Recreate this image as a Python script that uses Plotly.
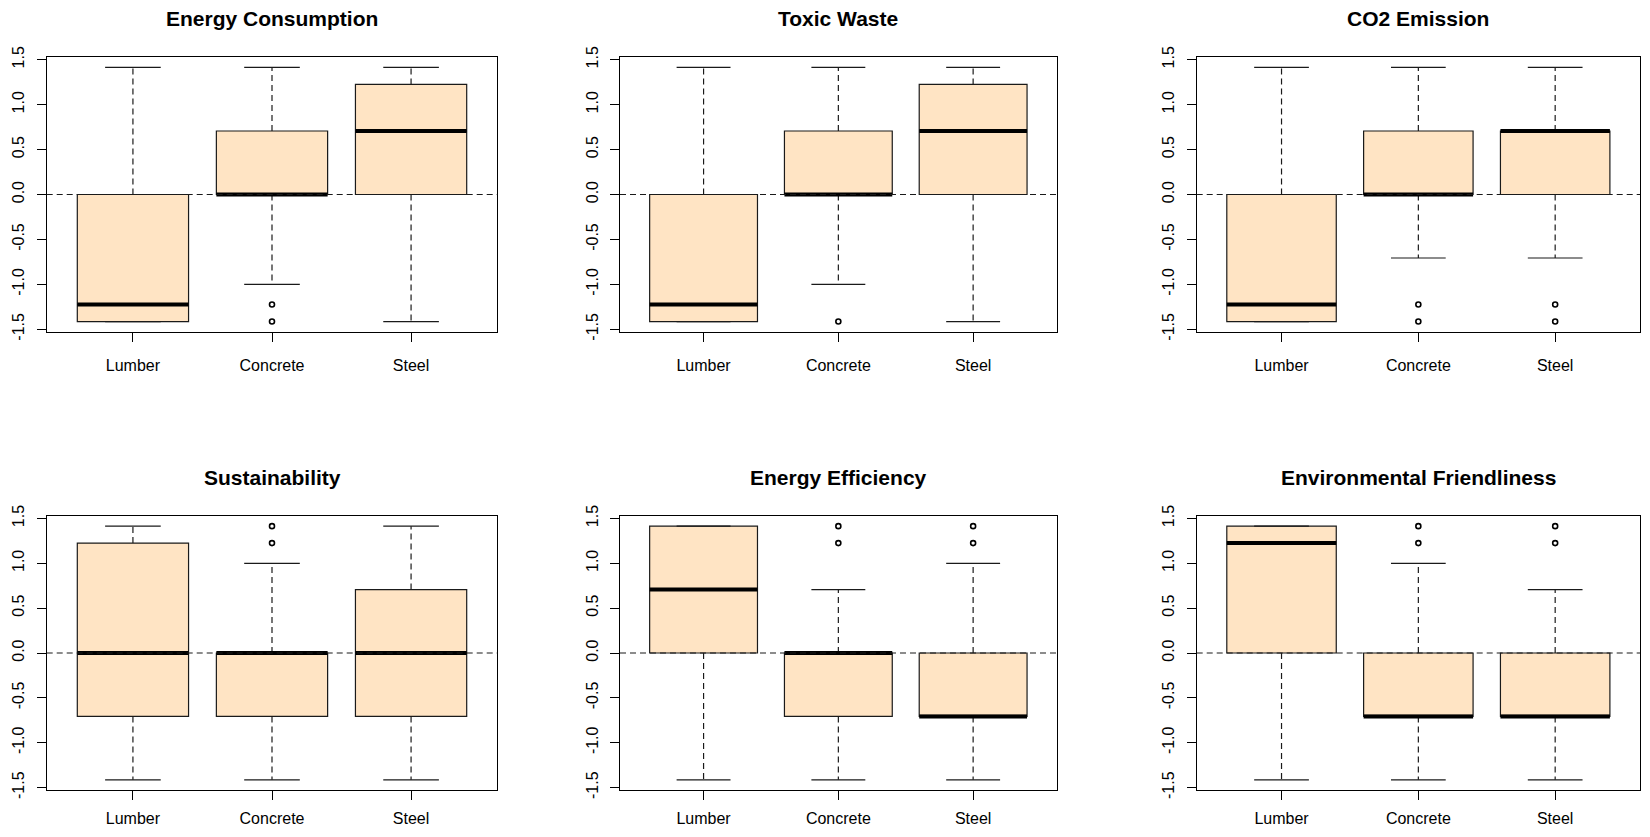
import plotly.graph_objects as go

# The browser page adds an 8px body margin, so the figure is sized to fit
# inside the window and the layout geometry is shifted by that margin.
PAGE_OFFSET = 8
W, H = 1634, 821

titles = ["Energy Consumption", "Toxic Waste", "CO2 Emission",
          "Sustainability", "Energy Efficiency", "Environmental Friendliness"]
categories = ["Lumber", "Concrete", "Steel"]
positions = [1, 2, 3]

lower_whisker = [
    [-1.414, -1.0, -1.414],
    [-1.414, -1.0, -1.414],
    [-1.414, -0.707, -0.707],
    [-1.414, -1.414, -1.414],
    [-1.414, -1.414, -1.414],
    [-1.414, -1.414, -1.414],
]
q1 = [
    [-1.414, 0.0, 0.0],
    [-1.414, 0.0, 0.0],
    [-1.414, 0.0, 0.0],
    [-0.707, -0.707, -0.707],
    [0.0, -0.707, -0.707],
    [0.0, -0.707, -0.707],
]
median = [
    [-1.225, 0.0, 0.707],
    [-1.225, 0.0, 0.707],
    [-1.225, 0.0, 0.707],
    [0.0, 0.0, 0.0],
    [0.707, 0.0, -0.707],
    [1.225, -0.707, -0.707],
]
q3 = [
    [0.0, 0.707, 1.225],
    [0.0, 0.707, 1.225],
    [0.0, 0.707, 0.707],
    [1.225, 0.0, 0.707],
    [1.414, 0.0, 0.0],
    [1.414, 0.0, 0.0],
]
upper_whisker = [
    [1.414, 1.414, 1.414],
    [1.414, 1.414, 1.414],
    [1.414, 1.414, 1.414],
    [1.414, 1.0, 1.414],
    [1.414, 0.707, 1.0],
    [1.414, 1.0, 0.707],
]
outliers = [
    [[], [-1.225, -1.414], []],
    [[], [-1.414], []],
    [[], [-1.225, -1.414], [-1.225, -1.414]],
    [[], [1.225, 1.414], []],
    [[], [1.225, 1.414], [1.225, 1.414]],
    [[], [1.225, 1.414], [1.225, 1.414]],
]

y_ticks = [-1.5, -1.0, -0.5, 0.0, 0.5, 1.0, 1.5]
y_ticktext = ["-1.5", "-1.0", "-0.5", "0.0", "0.5", "1.0", "1.5"]

BOX_FILL = "#FFE4C4"
BOX_WIDTH = 0.8
CAP_HALF = 0.2
FONT = "Liberation Sans, Arial, sans-serif"
LINE = "#1a1a1a"

# panel pixel geometry in window coordinates
col_px = [(46.7, 497.3), (620.0, 1056.7), (1196.7, 1640.0)]
row_px = [(57.3, 331.7), (516.0, 790.0)]
title_y_px = [18.5, 477.5]
x_label_standoff = [10, 5]


def fx(p):
    return (p - PAGE_OFFSET) / W


def fy(p):
    return 1 - (p - PAGE_OFFSET) / H


fig = go.Figure()
annotations = []
shapes = []

for i, title in enumerate(titles):
    r, c = divmod(i, 3)
    n = i + 1
    xa = "x" if n == 1 else f"x{n}"
    ya = "y" if n == 1 else f"y{n}"

    # boxes (whiskers drawn separately so they can be dashed)
    fig.add_trace(go.Box(
        x=positions, q1=q1[i], median=median[i], q3=q3[i],
        lowerfence=q1[i], upperfence=q3[i],
        width=BOX_WIDTH, fillcolor=BOX_FILL,
        line=dict(color=LINE, width=1.2),
        boxpoints=False, whiskerwidth=0,
        xaxis=xa, yaxis=ya, showlegend=False, hoverinfo="skip",
    ))

    # dashed whiskers
    wx, wy = [], []
    for k, p in enumerate(positions):
        wx += [p, p, None, p, p, None]
        wy += [q3[i][k], upper_whisker[i][k], None, q1[i][k], lower_whisker[i][k], None]
    fig.add_trace(go.Scatter(
        x=wx, y=wy, mode="lines",
        line=dict(color=LINE, width=1.2, dash="6px,4px"),
        xaxis=xa, yaxis=ya, showlegend=False, hoverinfo="skip",
    ))

    # whisker caps
    cx, cy = [], []
    for k, p in enumerate(positions):
        cx += [p - CAP_HALF, p + CAP_HALF, None, p - CAP_HALF, p + CAP_HALF, None]
        cy += [upper_whisker[i][k]] * 2 + [None] + [lower_whisker[i][k]] * 2 + [None]
    fig.add_trace(go.Scatter(
        x=cx, y=cy, mode="lines",
        line=dict(color=LINE, width=1.2),
        xaxis=xa, yaxis=ya, showlegend=False, hoverinfo="skip",
    ))

    # thick medians
    mx, my = [], []
    for k, p in enumerate(positions):
        mx += [p - BOX_WIDTH / 2, p + BOX_WIDTH / 2, None]
        my += [median[i][k], median[i][k], None]
    fig.add_trace(go.Scatter(
        x=mx, y=my, mode="lines",
        line=dict(color="black", width=4),
        xaxis=xa, yaxis=ya, showlegend=False, hoverinfo="skip",
    ))

    # outliers
    ox, oy = [], []
    for k, p in enumerate(positions):
        for v in outliers[i][k]:
            ox.append(p)
            oy.append(v)
    if ox:
        fig.add_trace(go.Scatter(
            x=ox, y=oy, mode="markers",
            marker=dict(symbol="circle-open", size=5, color="black",
                        line=dict(color="black", width=1.6)),
            xaxis=xa, yaxis=ya, showlegend=False, hoverinfo="skip",
        ))

    x0, x1 = col_px[c]
    top, bot = row_px[r]
    xdom = [fx(x0), fx(x1)]
    ydom = [fy(bot), fy(top)]

    axis_common = dict(
        showgrid=False, zeroline=False, showline=True, mirror=True,
        linecolor="black", linewidth=1, ticks="outside", ticklen=9,
        tickwidth=1, tickcolor="black", automargin=False,
    )
    fig.layout[("xaxis" if n == 1 else f"xaxis{n}")] = dict(
        domain=xdom, range=[0.38, 3.62], anchor=ya,
        tickmode="array", tickvals=positions, ticktext=categories,
        tickfont=dict(family=FONT, size=16, color="black"),
        ticklabelstandoff=x_label_standoff[r], **axis_common,
    )
    fig.layout[("yaxis" if n == 1 else f"yaxis{n}")] = dict(
        domain=ydom, range=[-1.527, 1.527], anchor=xa,
        tickmode="array", tickvals=y_ticks, ticktext=y_ticktext,
        tickangle=-90, tickfont=dict(family=FONT, size=16, color="black"),
        ticklabelstandoff=6, **axis_common,
    )

    shapes.append(dict(
        type="line", xref=f"{xa} domain", yref=ya, x0=0, x1=1, y0=0, y1=0,
        line=dict(color=LINE, width=1.2, dash="6px,4px"), layer="above",
    ))

    annotations.append(dict(
        text=f"<b>{title}</b>", xref="paper", yref="paper",
        x=(fx(x0) + fx(x1)) / 2, y=fy(title_y_px[r]),
        xanchor="center", yanchor="middle", showarrow=False,
        font=dict(family=FONT, size=21, color="black"),
    ))

fig.update_layout(
    width=W, height=H, autosize=False,
    margin=dict(l=0, r=0, t=0, b=0),
    paper_bgcolor="white", plot_bgcolor="white",
    annotations=annotations, shapes=shapes, showlegend=False,
)

fig.write_html("out.html")
